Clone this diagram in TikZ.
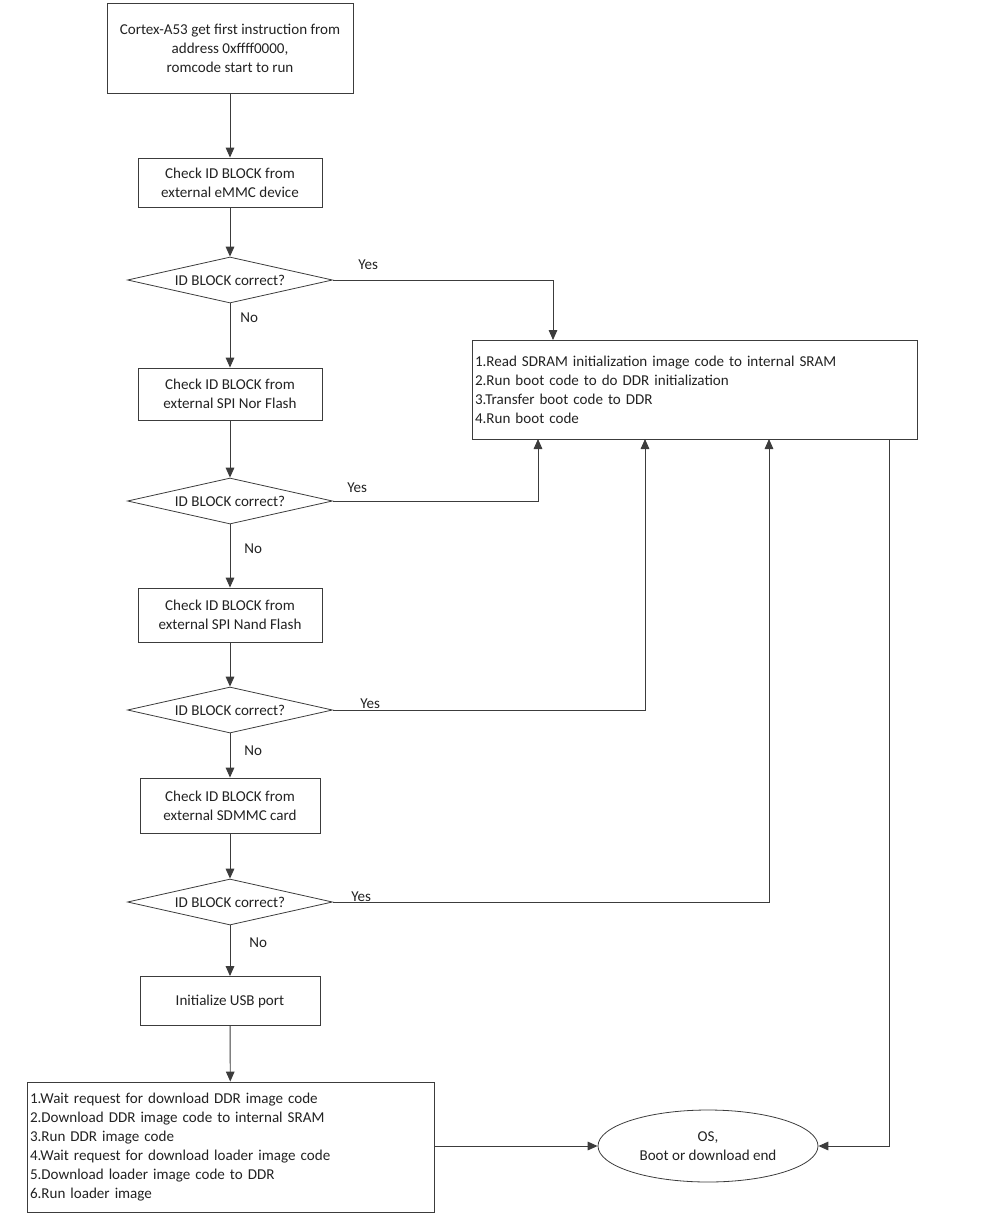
\documentclass[tikz,border=0pt]{standalone}
\usepackage{fontspec}
\setmainfont{Carlito}
\usetikzlibrary{positioning}
\usetikzlibrary{arrows.meta}
\usetikzlibrary{shapes.geometric}
\definecolor{lineGray}{HTML}{3C3C3C}
\definecolor{textDark}{HTML}{222222}

\tikzset{
  flowbox/.style={draw=lineGray, line width=0.7pt, align=center, minimum width=138pt, inner sep=2pt},
  decision/.style={diamond, draw=lineGray, line width=0.6pt, aspect=4.4, minimum width=153.75pt, minimum height=34.5pt, inner sep=0pt},
  listbox/.style={draw=lineGray, line width=0.7pt, align=left, inner sep=2.25pt},
  flow/.style={draw=lineGray, line width=0.7pt, -{Triangle[length=7.5pt,width=6.5pt]}},
  answer/.style={anchor=west, inner sep=0pt}
}

\begin{document}
\begin{tikzpicture}[x=0.75pt, y=-0.75pt, font=\fontsize{11.3}{14.25}\selectfont, text=textDark]
  \useasboundingbox (0,0) rectangle (986,1228);

  % main column
  \node[flowbox, minimum width=184.5pt, minimum height=67.5pt] (start) at (230,48)
    {Cortex-A53 get first instruction from\\address 0xffff0000,\\romcode start to run};
  \node[flowbox, minimum height=36.75pt] (emmc) at (230,182.5) {Check ID BLOCK from\\external eMMC device};
  \node[decision] (chk1) at (230,280) {ID BLOCK correct?};
  \node[flowbox, minimum height=39pt] (nor) at (230,394) {Check ID BLOCK from\\external SPI Nor Flash};
  \node[decision] (chk2) at (230,501) {ID BLOCK correct?};
  \node[flowbox, minimum height=40.5pt] (nand) at (230,615) {Check ID BLOCK from\\external SPI Nand Flash};
  \node[decision] (chk3) at (230,710) {ID BLOCK correct?};
  \node[flowbox, minimum width=135pt, minimum height=41.25pt] (sdmmc) at (230,805.5) {Check ID BLOCK from\\external SDMMC card};
  \node[decision] (chk4) at (230,902) {ID BLOCK correct?};
  \node[flowbox, minimum width=135pt, minimum height=36.75pt] (usb) at (230,1001) {Initialize USB port};
  \node[listbox, text width=300.75pt, minimum height=97.5pt] (download) at (230.5,1147)
    {1.Wait request for download DDR image code\\2.Download DDR image code to internal SRAM\\3.Run DDR image code\\4.Wait request for download loader image code\\5.Download loader image code to DDR\\6.Run loader image};

  % boot side
  \node[listbox, text width=329.25pt, minimum height=74.25pt] (sdram) at (694.5,389.5)
    {1.Read SDRAM initialization image code to internal SRAM\\2.Run boot code to do DDR initialization\\3.Transfer boot code to DDR\\4.Run boot code};
  \node[ellipse, draw=lineGray, line width=0.6pt, minimum width=165pt, minimum height=54pt, align=center, inner sep=0pt] (os) at (708,1146)
    {OS,\\Boot or download end};

  \coordinate (in1) at (553,340);
  \coordinate (in2) at (538,439);
  \coordinate (in3) at (645,439);
  \coordinate (in4) at (769,439);
  \coordinate (out) at (889,439);

  \draw[flow] (start) -- (emmc);
  \draw[flow] (emmc) -- (chk1);
  \draw[flow] (chk1) -- (nor);
  \draw[flow] (nor) -- (chk2);
  \draw[flow] (chk2) -- (nand);
  \draw[flow] (nand) -- (chk3);
  \draw[flow] (chk3) -- (sdmmc);
  \draw[flow] (sdmmc) -- (chk4);
  \draw[flow] (chk4) -- (usb);
  \draw[flow] (usb) -- (download);

  \draw[flow] (chk1.east) -| (in1);
  \draw[flow] (chk2.east) -| (in2);
  \draw[flow] (chk3.east) -| (in3);
  \draw[flow] (chk4.east) -| (in4);
  \draw[flow] (out) |- (os.east);
  \draw[flow] (download.east |- os) -- (os.west);

  \node[answer] (yes1) at (358,265) {Yes};
  \node[answer] (no1) at (240,318) {No};
  \node[answer] (yes2) at (347,488) {Yes};
  \node[answer] (no2) at (244,549) {No};
  \node[answer] (yes3) at (360,704) {Yes};
  \node[answer] (no3) at (244,751) {No};
  \node[answer] (yes4) at (351,897) {Yes};
  \node[answer] (no4) at (249,943) {No};

\end{tikzpicture}
\end{document}
